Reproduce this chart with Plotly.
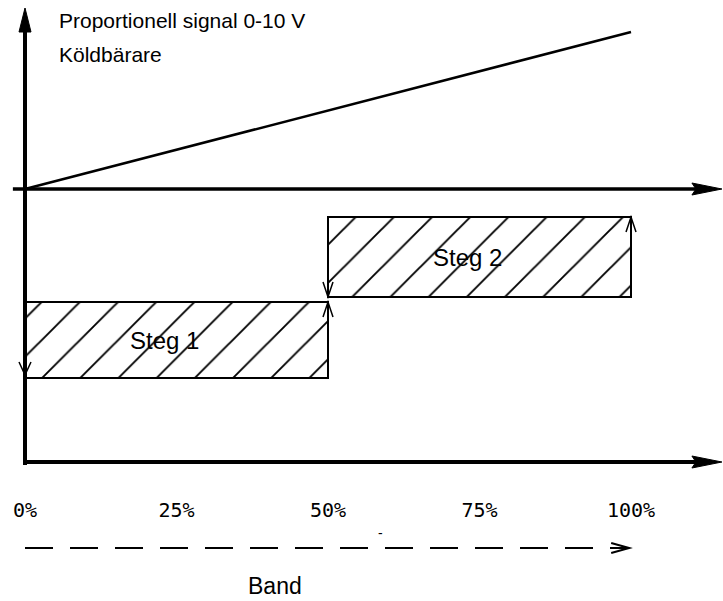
import plotly.graph_objects as go

# ---- data ----
tick_vals = [0, 25, 50, 75, 100]
tick_text = ["0%", "25%", "50%", "75%", "100%"]

step_names = ["Steg 1", "Steg 2"]
step_start = [0, 50]
step_end = [50, 100]
step_low = [84, 165]
step_high = [160, 245]

signal_x = [0, 100]
signal_y = [273, 430]

title_lines = ["Proportionell signal 0-10 V", "Köldbärare"]
band_label = "Band"

# ---- layout constants ----
X_MIN, X_MAX = -4.125, 115.18
Y_MIN, Y_MAX = -139, 462
signal_base = signal_y[0]
axis_top = 454
axis_right = 115.0
band_y = -86
band_end = 99.7

FONT = "Liberation Sans, Arial, sans-serif"

fig = go.Figure()

centers = [(a + b) / 2 for a, b in zip(step_start, step_end)]
widths = [b - a for a, b in zip(step_start, step_end)]
heights = [h - l for l, h in zip(step_low, step_high)]

fig.add_trace(go.Bar(
    x=centers, y=heights, base=step_low, width=widths,
    marker=dict(color="white",
                line=dict(color="black", width=2),
                pattern=dict(shape="/", fgcolor="black", bgcolor="white",
                             size=27, solidity=0.07, fillmode="replace")),
    hoverinfo="skip", showlegend=False,
))

fig.add_trace(go.Scatter(
    x=signal_x, y=signal_y, mode="lines",
    line=dict(color="black", width=2.5),
    hoverinfo="skip", showlegend=False,
))

shapes = []
# axes lines
shapes.append(dict(type="line", x0=0, x1=0, y0=-3, y1=axis_top - 10,
                   line=dict(color="black", width=4)))
shapes.append(dict(type="line", x0=-2, x1=axis_right - 3, y0=signal_base, y1=signal_base,
                   line=dict(color="black", width=3.5)))
shapes.append(dict(type="line", x0=0, x1=axis_right - 3, y0=0, y1=0,
                   line=dict(color="black", width=4)))

def head(xa, ya, path, fill=True, w=0):
    d = dict(type="path", xsizemode="pixel", ysizemode="pixel",
             xanchor=xa, yanchor=ya, path=path)
    if fill:
        d.update(fillcolor="black", line=dict(color="black", width=1))
    else:
        d.update(line=dict(color="black", width=w))
    return d

# filled arrowheads
shapes.append(head(0, axis_top, "M0,0 L-6,-24 L6,-24 Z"))
shapes.append(head(axis_right, signal_base, "M0,0 L-30,-6 L-26,0 L-30,6 Z"))
shapes.append(head(axis_right, 0, "M0,0 L-30,-6 L-26,0 L-30,6 Z"))

# small chevrons at the step edges
shapes.append(head(step_start[0], step_low[0] + 3, "M-6,13 L0,0 L6,13", fill=False, w=1.5))
shapes.append(head(step_start[1], step_low[1], "M-5,15 L0,0 L5,15", fill=False, w=1.5))
shapes.append(head(step_end[0], step_high[0], "M-5,-15 L0,0 L5,-15", fill=False, w=1.5))
shapes.append(head(step_end[1], step_high[1], "M-5,-15 L0,0 L5,-15", fill=False, w=1.5))

# dashed band arrow
shapes.append(dict(type="line", x0=0, x1=band_end - 0.5, y0=band_y, y1=band_y,
                   line=dict(color="black", width=2, dash="28px,17px")))
shapes.append(head(band_end, band_y, "M-18,-5 L0,0 L-18,5", fill=False, w=2))

label_dx = [-2, -2]
annotations = []
for name, c, lo, hi, dx in zip(step_names, centers, step_low, step_high, label_dx):
    annotations.append(dict(x=c + dx, y=(lo + hi) / 2, xref="x", yref="y", text=name,
                            showarrow=False, xanchor="center", yanchor="middle",
                            font=dict(family=FONT, size=24, color="black")))
annotations += [
    dict(x=5.3, y=442, xref="x", yref="y", text=title_lines[0], showarrow=False,
         xanchor="left", yanchor="middle", font=dict(family=FONT, size=21, color="black")),
    dict(x=5.3, y=408, xref="x", yref="y", text=title_lines[1], showarrow=False,
         xanchor="left", yanchor="middle", font=dict(family=FONT, size=21, color="black")),
    dict(x=41.3, y=-124, xref="x", yref="y", text=band_label, showarrow=False,
         xanchor="center", yanchor="middle", font=dict(family=FONT, size=23, color="black")),
    dict(x=58.6, y=-71, xref="x", yref="y", text="-", showarrow=False,
         xanchor="center", yanchor="middle", font=dict(family=FONT, size=14, color="black")),
]

fig.update_layout(
    width=723, height=601,
    margin=dict(l=0, r=0, t=0, b=0),
    paper_bgcolor="white", plot_bgcolor="white",
    shapes=shapes, annotations=annotations,
    bargap=0,
    xaxis=dict(range=[X_MIN, X_MAX], showgrid=False, zeroline=False, showline=False,
               tickvals=tick_vals, ticktext=tick_text, ticks="",
               anchor="free", position=(0 - Y_MIN) / (Y_MAX - Y_MIN),
               ticklabelstandoff=34,
               tickfont=dict(family="DejaVu Sans Mono", size=20, color="black"),
               fixedrange=True),
    yaxis=dict(range=[Y_MIN, Y_MAX], visible=False, fixedrange=True),
)

fig.write_html("out.html", config={"displayModeBar": False},
               post_script="document.body.style.margin='0px';")
